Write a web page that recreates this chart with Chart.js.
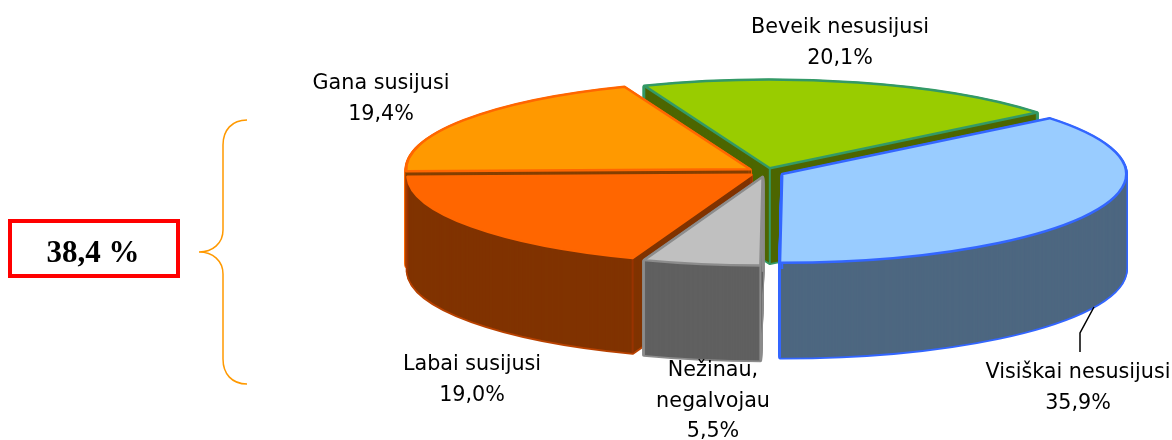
<!DOCTYPE html>
<html>
<head>
<meta charset="utf-8">
<style>
html, body { margin: 0; padding: 0; background: #fff; }
#box { width: 1172px; height: 440px; }
</style>
</head>
<body>
<div id="box"><canvas id="pie" width="1172" height="440"></canvas></div>
<script src="https://cdn.jsdelivr.net/npm/chart.js@4"></script>
<script>
// duomenys
const categories = ['Visiškai nesusijusi', ['Nežinau,', 'negalvojau'], 'Labai susijusi', 'Gana susijusi', 'Beveik nesusijusi'];
const values = [35.9, 5.5, 19.0, 19.4, 20.1];
const explode = [18, 19, 18, 19, 15];
const topColors = ['#99CCFF', '#C0C0C0', '#FF6600', '#FF9900', '#99CC00'];
const wallColors = ['#4D6780', '#606060', '#803300', '#853F00', '#4D6600'];
const lineColors = ['#3366FF', '#8C8C8C', '#FF6600', '#FF6600', '#339966'];
const wallLineColors = ['#3366FF', '#8C8C8C', '#B84200', '#FF6600', '#339966'];
const edgeColors = ['#3366FF', '#8C8C8C', '#993300', '#853F00', '#339966'];

// pasvirimas ir storis
const tilt = 0.258;
const depth = 95;
const drawOrder = [4, 3, 2, 1, 0];
const labelSpots = [[1078, 373], [713, 371], [472, 365], [381, 84], [840, 28]];
const labelFont = '20.7px "DejaVu Sans"';
const lineStep = 30.5;

function slicePath(ctx, el, dy) {
    const mid = (el.startAngle + el.endAngle) / 2;
    const off = el.options.offset;
    const x = el.x + Math.cos(mid) * off;
    const y = el.y + Math.sin(mid) * off;
    ctx.save();
    ctx.translate(0, el.y + dy);
    ctx.scale(1, tilt);
    ctx.translate(0, -el.y);
    ctx.beginPath();
    ctx.moveTo(x, y);
    ctx.arc(x, y, el.outerRadius, el.startAngle, el.endAngle);
    ctx.closePath();
    ctx.restore();
}

function edgeLines(ctx, el, color) {
    const mid = (el.startAngle + el.endAngle) / 2;
    const off = el.options.offset;
    const x = el.x + Math.cos(mid) * off;
    const y = el.y + Math.sin(mid) * off * tilt;
    const r = el.outerRadius;
    const spots = [
        [x, y],
        [x + Math.cos(el.startAngle) * r, y + Math.sin(el.startAngle) * r * tilt],
        [x + Math.cos(el.endAngle) * r, y + Math.sin(el.endAngle) * r * tilt]
    ];
    ctx.strokeStyle = color;
    ctx.lineWidth = 2;
    spots.forEach(p => {
        ctx.beginPath();
        ctx.moveTo(p[0], p[1]);
        ctx.lineTo(p[0], p[1] + depth);
        ctx.stroke();
    });
}

const pie3d = {
    id: 'pie3d',
    beforeDatasetsDraw(chart) {
        const ctx = chart.ctx;
        const arcs = chart.getDatasetMeta(0).data;
        ctx.save();
        ctx.lineJoin = 'round';
        drawOrder.forEach(i => {
            const el = arcs[i];
            // sienele: pirma kontūras, tada užpildas
            ctx.strokeStyle = wallLineColors[i];
            ctx.lineWidth = 3.5;
            for (let d = depth; d > 0; d--) {
                slicePath(ctx, el, d);
                ctx.stroke();
            }
            ctx.fillStyle = wallColors[i];
            for (let d = depth; d > 0; d--) {
                slicePath(ctx, el, d);
                ctx.fill();
            }
            edgeLines(ctx, el, edgeColors[i]);
            // viršus
            slicePath(ctx, el, 0);
            ctx.fillStyle = topColors[i];
            ctx.fill();
            ctx.strokeStyle = lineColors[i];
            ctx.lineWidth = 2.5;
            ctx.stroke();
        });
        ctx.restore();
        return false;
    },
    afterDraw(chart) {
        const ctx = chart.ctx;
        ctx.save();
        // žymės
        ctx.fillStyle = '#000';
        ctx.font = labelFont;
        ctx.textAlign = 'center';
        ctx.textBaseline = 'middle';
        categories.forEach((cat, i) => {
            const lines = [].concat(cat, values[i].toFixed(1).replace('.', ',') + '%');
            lines.forEach((t, n) => ctx.fillText(t, labelSpots[i][0], labelSpots[i][1] + n * lineStep));
        });
        // linija iki žymės
        ctx.strokeStyle = '#000';
        ctx.lineWidth = 1.5;
        ctx.beginPath();
        ctx.moveTo(1094, 307);
        ctx.lineTo(1080, 333);
        ctx.lineTo(1080, 352);
        ctx.stroke();
        // riestinis skliaustas
        ctx.strokeStyle = '#FF9900';
        ctx.lineWidth = 1.5;
        ctx.beginPath();
        ctx.moveTo(247, 120);
        ctx.bezierCurveTo(232, 120, 223, 130, 223, 145);
        ctx.lineTo(223, 230);
        ctx.bezierCurveTo(223, 243, 213, 252, 199, 252);
        ctx.bezierCurveTo(213, 252, 223, 261, 223, 274);
        ctx.lineTo(223, 359);
        ctx.bezierCurveTo(223, 374, 232, 384, 247, 384);
        ctx.stroke();
        // rėmelis
        ctx.strokeStyle = '#FF0000';
        ctx.lineWidth = 4;
        ctx.strokeRect(10, 221, 168, 55);
        ctx.fillStyle = '#000';
        ctx.font = 'bold 31px "Liberation Serif"';
        ctx.fillText('38,4 %', 93, 254);
        ctx.restore();
    }
};

new Chart(document.getElementById('pie'), {
    type: 'pie',
    data: {
        labels: categories,
        datasets: [{
            data: values,
            backgroundColor: topColors,
            offset: explode
        }]
    },
    options: {
        responsive: false,
        animation: false,
        rotation: 51,
        radius: 344,
        layout: { padding: { left: 360, bottom: 96 } },
        plugins: {
            legend: { display: false },
            tooltip: { enabled: false }
        }
    },
    plugins: [pie3d]
});
</script>
</body>
</html>
